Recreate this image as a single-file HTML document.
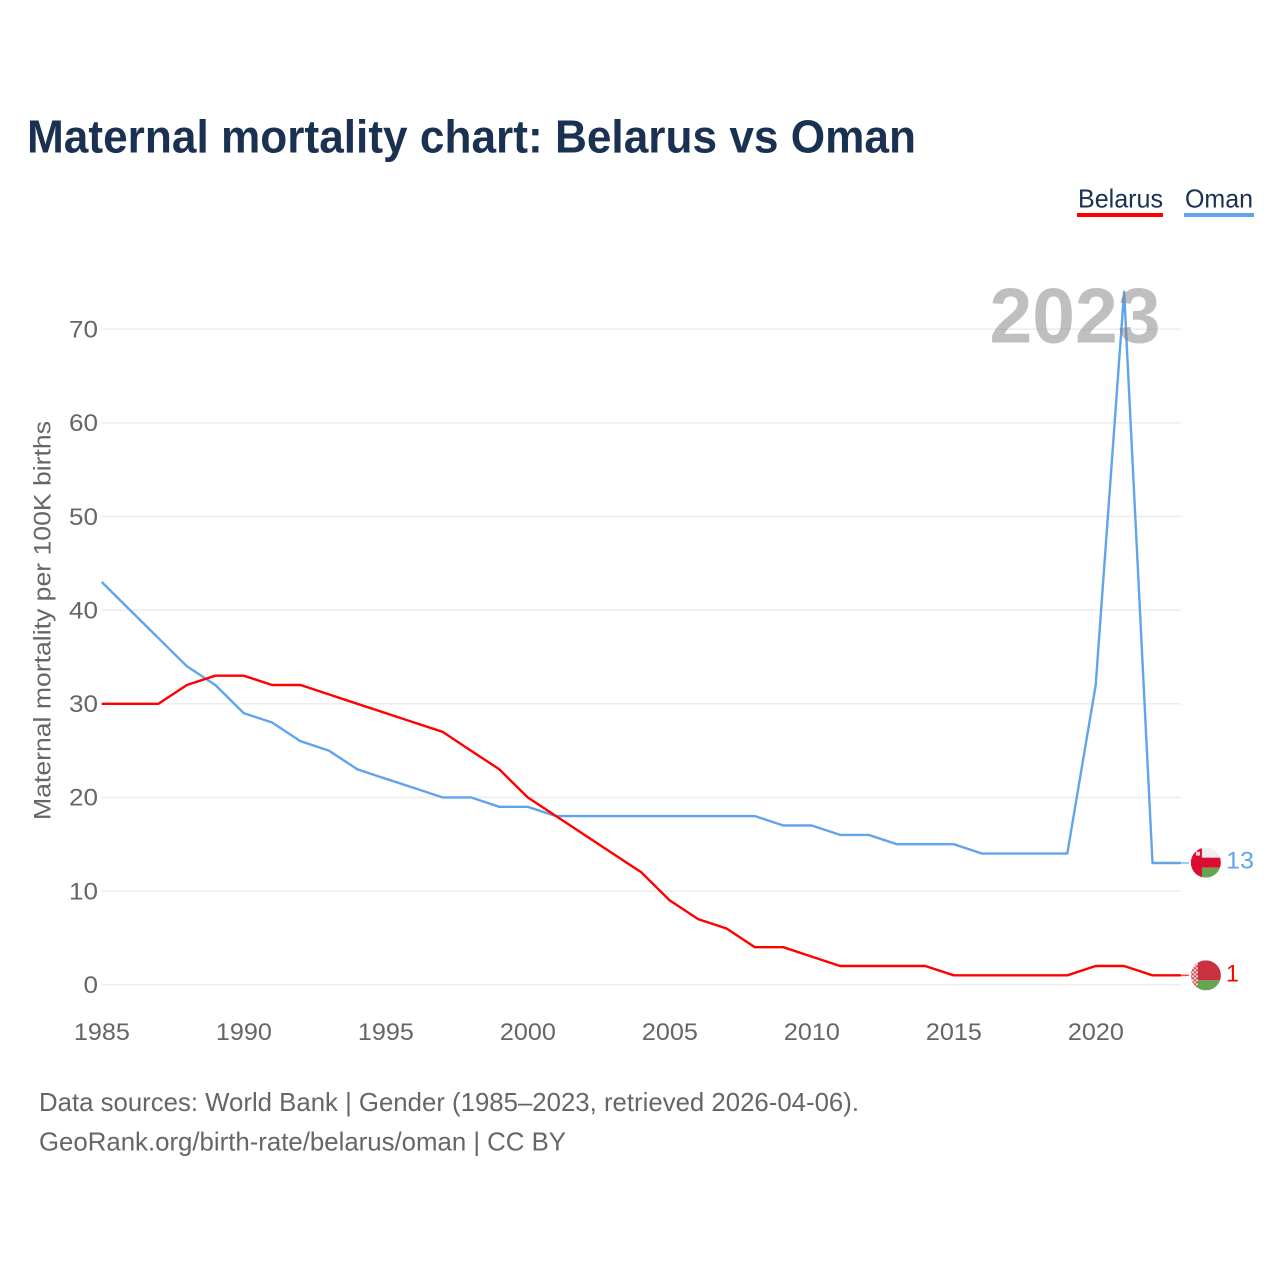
<!DOCTYPE html>
<html lang="en">
<head>
<meta charset="utf-8">
<title>Maternal mortality chart: Belarus vs Oman</title>
<style>
html,body{margin:0;padding:0;background:#fff;width:1280px;height:1280px;overflow:hidden}
svg{display:block;font-family:"Liberation Sans",sans-serif}
</style>
</head>
<body>
<svg id="chart" xmlns="http://www.w3.org/2000/svg" width="1280" height="1280" viewBox="0 0 1280 1280">
  <defs>
    <clipPath id="flag-clip"><circle cx="0" cy="0" r="15"/></clipPath>
    <pattern id="belarus-ornament" width="4" height="4" patternUnits="userSpaceOnUse">
      <rect width="4" height="4" fill="#f4dfe0"/>
      <rect width="2" height="2" fill="#cf4450"/>
      <rect x="2" y="2" width="2" height="2" fill="#cf4450"/>
    </pattern>
  </defs>
  <rect width="1280" height="1280" fill="#ffffff"/>
  <text x="27" y="152.5" font-size="46" font-weight="700" fill="#1a3152" textLength="889" lengthAdjust="spacingAndGlyphs">Maternal mortality chart: Belarus vs Oman</text>

  <g>
    <g>
      <text x="1078" y="207.5" font-size="26" fill="#1a3152" textLength="85" lengthAdjust="spacingAndGlyphs">Belarus</text>
      <rect x="1077" y="213" width="86" height="4" fill="#ff0000"/>
    </g>
    <g>
      <text x="1185" y="207.5" font-size="26" fill="#1a3152" textLength="68" lengthAdjust="spacingAndGlyphs">Oman</text>
      <rect x="1184" y="213" width="70" height="4" fill="#60a5ec"/>
    </g>
  </g>

  <g id="grid"></g>
  <g id="y-ticks"></g>
  <g id="x-ticks"></g>

  <text transform="translate(50.5,620.5) rotate(-90)" text-anchor="middle" font-size="24.5" fill="#666666" textLength="399" lengthAdjust="spacingAndGlyphs">Maternal mortality per 100K births</text>

  <g id="series"></g>

  <text x="989.5" y="342.5" font-size="78" font-weight="700" fill="#808080" fill-opacity="0.5" textLength="171" lengthAdjust="spacingAndGlyphs">2023</text>

  <g id="end-markers"></g>

  <text x="39" y="1111" font-size="26" fill="#666666" textLength="820" lengthAdjust="spacingAndGlyphs">Data sources: World Bank | Gender (1985–2023, retrieved 2026-04-06).</text>
  <text x="39" y="1150.5" font-size="26" fill="#666666" textLength="527" lengthAdjust="spacingAndGlyphs">GeoRank.org/birth-rate/belarus/oman | CC BY</text>
</svg>

<script>
const firstYear = 1985;
const lastYear = 2023;
const xTickLabels = [1985, 1990, 1995, 2000, 2005, 2010, 2015, 2020];
const yTickLabels = [0, 10, 20, 30, 40, 50, 60, 70];
const belarusValues = [30, 30, 30, 32, 33, 33, 32, 32, 31, 30, 29, 28, 27, 25, 23, 20, 18, 16, 14, 12, 9, 7, 6, 4, 4, 3, 2, 2, 2, 2, 1, 1, 1, 1, 1, 2, 2, 1, 1];
const omanValues = [43, 40, 37, 34, 32, 29, 28, 26, 25, 23, 22, 21, 20, 20, 19, 19, 18, 18, 18, 18, 18, 18, 18, 18, 17, 17, 16, 16, 15, 15, 15, 14, 14, 14, 14, 32, 74, 13, 13];

const NS = 'http://www.w3.org/2000/svg';
function xScale(year) { return 101.7 + (year - 1985) * 28.4; }
function yScale(value) { return 984.7 - value * 9.365; }
function make(tag, parent, attrs, text) {
  const el = document.createElementNS(NS, tag);
  for (const k in attrs) el.setAttribute(k, attrs[k]);
  if (text !== undefined) el.textContent = text;
  parent.appendChild(el);
  return el;
}

const gridGroup = document.getElementById('grid');
const yGroup = document.getElementById('y-ticks');
const xGroup = document.getElementById('x-ticks');
const seriesGroup = document.getElementById('series');
const markerGroup = document.getElementById('end-markers');

yTickLabels.forEach(function (v) {
  const y = yScale(v);
  const line = make('line', gridGroup, { x1: 102, x2: xScale(lastYear), y1: y, y2: y, stroke: '#ededed', 'stroke-width': 1.6 });
  
  
  const label = make('text', yGroup, { x: 98, y: y + 8.3, 'text-anchor': 'end', 'font-size': 24.5, fill: '#666666', textLength: String(v).length * 14.5, lengthAdjust: 'spacingAndGlyphs' }, String(v));
  
  
});

xTickLabels.forEach(function (year) {
  const label = make('text', xGroup, { x: xScale(year) + 0.2, y: 1040, 'text-anchor': 'middle', 'font-size': 24.5, fill: '#666666', textLength: 56, lengthAdjust: 'spacingAndGlyphs' }, String(year));
  
  
});

function linePoints(values) {
  return values.map(function (v, i) { return xScale(firstYear + i).toFixed(1) + ',' + yScale(v).toFixed(1); }).join(' ');
}

const omanLine = make('polyline', seriesGroup, { points: linePoints(omanValues), fill: 'none', stroke: '#60a5ec', 'stroke-width': 2.4, 'stroke-linejoin': 'round' });



const belarusLine = make('polyline', seriesGroup, { points: linePoints(belarusValues), fill: 'none', stroke: '#ff0000', 'stroke-width': 2.4, 'stroke-linejoin': 'round' });



function connector(values, color) {
  const y = yScale(values[values.length - 1]);
  const c = make('line', markerGroup, { x1: xScale(lastYear), x2: xScale(lastYear) + 8, y1: y, y2: y, stroke: color, 'stroke-width': 1.6, 'stroke-opacity': 0.75 });
  return c;
}

const omanConnector = connector(omanValues, '#60a5ec');


const belarusConnector = connector(belarusValues, '#ff0000');



const flagX = xScale(lastYear) + 25;

const omanLast = omanValues[omanValues.length - 1];
const omanFlag = make('g', markerGroup, { transform: 'translate(' + flagX + ',' + (yScale(omanLast) - 0.3) + ')', 'clip-path': 'url(#flag-clip)' });


make('rect', omanFlag, { x: -15, y: -15, width: 30, height: 10, fill: '#efefef' });
make('rect', omanFlag, { x: -15, y: -5, width: 30, height: 10, fill: '#db0b32' });
make('rect', omanFlag, { x: -15, y: 5, width: 30, height: 10, fill: '#65a54f' });
make('rect', omanFlag, { x: -15, y: -15, width: 11, height: 30, fill: '#db0b32' });
make('rect', omanFlag, { x: -10, y: -11, width: 4, height: 4, fill: '#f3d3d8' });

const belarusLast = belarusValues[belarusValues.length - 1];
const belarusFlag = make('g', markerGroup, { transform: 'translate(' + flagX + ',' + yScale(belarusLast) + ')', 'clip-path': 'url(#flag-clip)' });


make('rect', belarusFlag, { x: -15, y: -15, width: 30, height: 20, fill: '#c9313f' });
make('rect', belarusFlag, { x: -15, y: 5, width: 30, height: 10, fill: '#65a54f' });
make('rect', belarusFlag, { x: -15, y: -15, width: 7, height: 30, fill: 'url(#belarus-ornament)' });

const omanValueLabel = make('text', markerGroup, { x: 1226, y: yScale(omanLast) + 5.5, 'font-size': 24.5, fill: '#60a5ec', textLength: 28, lengthAdjust: 'spacingAndGlyphs' }, String(omanLast));


const belarusValueLabel = make('text', markerGroup, { x: 1226, y: yScale(belarusLast) + 6, 'font-size': 24.5, fill: '#ff0000', textLength: 13, lengthAdjust: 'spacingAndGlyphs' }, String(belarusLast));


</script>
</body>
</html>
